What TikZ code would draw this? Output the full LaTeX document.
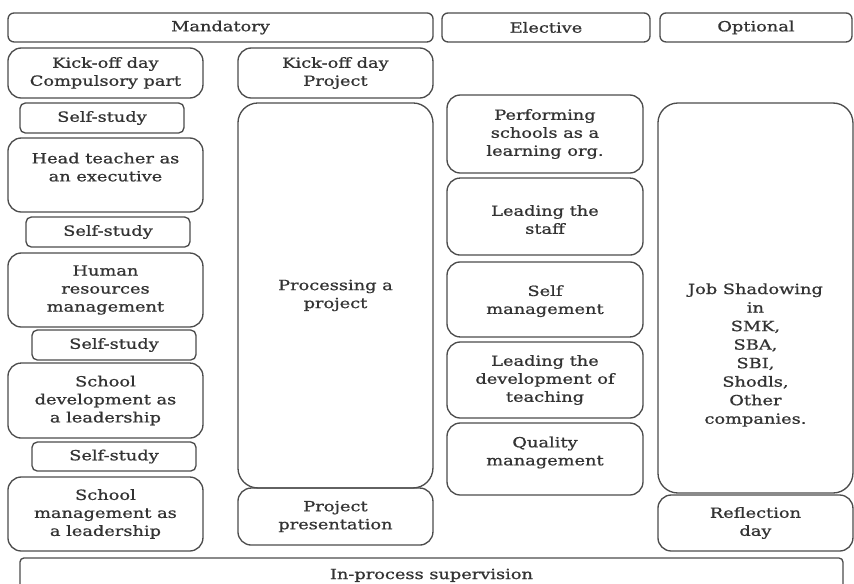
\documentclass[tikz,border=0pt]{standalone}
\usepackage{fontspec}
\setmainfont{DejaVu Serif}[FakeStretch=1.27, FakeBold=0.9]
\usepackage{tikz}
\usetikzlibrary{positioning}
\tikzset{
    headnode/.style = {draw=black!70, line width=1pt, rectangle, rounded corners=4.5pt, inner sep=0em,
      node distance=0em, minimum height=21.75pt, text=black!80, font=\fontsize{10.5}{13.5}\selectfont},
    roundnode/.style = {draw=black!70, line width=1pt, rectangle, rounded corners=10pt, inner sep=0em,
      node distance=0em, minimum width=146.25pt, text=black!80, font=\fontsize{10.5}{13.5}\selectfont},
    tallnode/.style = {roundnode, rounded corners=15pt},
    studynode/.style = {draw=black!70, line width=1pt, rectangle, rounded corners=4pt, inner sep=0em,
      node distance=0em, minimum width=123pt, minimum height=22.5pt, text=black!80, font=\fontsize{10.5}{13.5}\selectfont},
    textnode/.style = {draw=none, fill=none, rectangle, inner sep=0em, node distance=0em,
      text=black!80, font=\fontsize{10.5}{13.9}\selectfont},
    every text node part/.style={align=center}
}

\begin{document}
\begin{tikzpicture}
\useasboundingbox (0,0) rectangle (640.5pt,-437.25pt);

% headers
\node [headnode, minimum width=318.75pt, name=mandatory] at (165.4pt,-20.6pt) {Mandatory};
\node [headnode, minimum width=156pt, name=elective, right of=mandatory, xshift=244.1pt] {Elective};
\node [headnode, minimum width=144pt, name=optional, right of=mandatory, xshift=401.6pt] {Optional};

% mandatory, compulsory part
\node [roundnode, minimum height=37.5pt, name=kickA, below of=mandatory, xshift=-86.3pt, yshift=-34.15pt] {Kick-off day\\Compulsory part};
\node [studynode, name=study1, below of=kickA, xshift=-2.6pt, yshift=-33.75pt] {Self-study};
\node [roundnode, minimum height=55.5pt, name=head, below of=kickA, yshift=-76.5pt] {Head teacher as\\an executive\\[-1.5pt]};
\node [studynode, name=study2, below of=head, xshift=1.9pt, yshift=-42.75pt] {Self-study};
\node [roundnode, minimum height=55.5pt, name=hr, below of=head, yshift=-86.25pt] {Human\\resources\\management};
\node [studynode, name=study3, below of=hr, xshift=6.4pt, yshift=-41.25pt] {Self-study};
\node [roundnode, minimum height=56.25pt, name=devlead, below of=hr, yshift=-82.9pt] {School\\development as\\a leadership};
\node [studynode, minimum height=21.75pt, name=study4, below of=devlead, xshift=6.4pt, yshift=-42pt] {Self-study};
\node [roundnode, minimum height=55.5pt, name=mgmtlead, below of=devlead, yshift=-85.1pt] {School\\management as\\a leadership};

% mandatory, project part
\node [roundnode, minimum height=37.5pt, name=kickB, right of=kickA, xshift=172.5pt] {Kick-off day\\Project};
\node [tallnode, minimum height=288.75pt, name=process, below of=kickB, yshift=-166.85pt] {Processing a\\project};
\node [roundnode, minimum height=42.75pt, name=present, below of=process, yshift=-165.8pt] {Project\\presentation};

% elective
\node [roundnode, minimum width=147pt, minimum height=58.5pt, name=perform, below of=elective, xshift=-0.75pt, yshift=-79.9pt] {Performing\\schools as a\\learning org.};
\node [roundnode, minimum width=147pt, minimum height=57.75pt, name=staff, below of=perform, yshift=-61.9pt] {\mbox{}\\[-1pt]Leading the\\staff};
\node [roundnode, minimum width=147pt, minimum height=56.25pt, name=selfmgmt, below of=staff, yshift=-62.2pt] {\mbox{}\\[-3pt]Self\\management};
\node [roundnode, minimum width=147pt, minimum height=57pt, name=teaching, below of=selfmgmt, yshift=-60.4pt] {Leading the\\development of\\teaching};
\node [roundnode, minimum width=147pt, minimum height=54pt, name=quality, below of=teaching, yshift=-59.25pt] {Quality\\management\\[-1.5pt]};

% optional
\node [tallnode, minimum height=292.5pt, name=shadow, below of=optional, xshift=-0.4pt, yshift=-202.9pt] {};
\node [textnode, name=shadowtext, below of=shadow, yshift=-42.75pt] {Job Shadowing\\in\\SMK,\\SBA,\\SBI,\\Shodls,\\Other\\companies.};
\node [roundnode, minimum height=42pt, name=reflect, below of=shadow, yshift=-168.75pt] {Reflection\\day};

% supervision
\node [headnode, rounded corners=3pt, minimum width=617.25pt, minimum height=26pt, name=supervise, below of=mandatory, xshift=158.2pt, yshift=-410.9pt] {In-process supervision};
\end{tikzpicture}
\end{document}
